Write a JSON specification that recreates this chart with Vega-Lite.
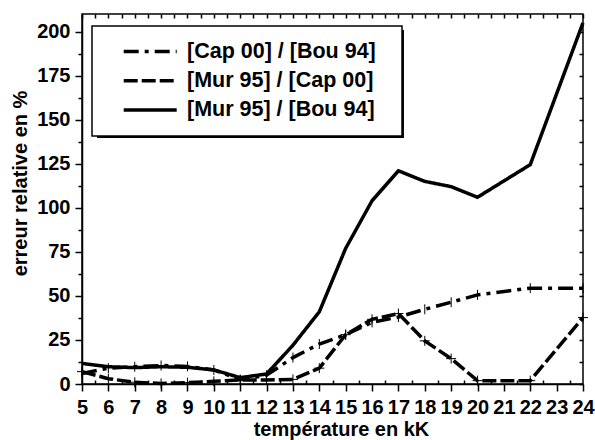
{
  "$schema": "https://vega.github.io/schema/vega-lite/v6.json",
  "width": 501,
  "height": 370,
  "autosize": {"type": "none"},
  "padding": {"left": 82, "top": 14, "right": 12, "bottom": 56},
  "background": "white",
  "config": {
    "font": "Liberation Sans",
    "view": {"stroke": "black", "strokeWidth": 1.5},
    "axis": {
      "domainColor": "black", "tickColor": "black", "labelColor": "black", "titleColor": "black",
      "labelFont": "Liberation Sans", "labelFontWeight": "bold", "labelFontSize": 20,
      "titleFont": "Liberation Sans", "titleFontWeight": "bold", "titleFontSize": 20,
      "grid": false, "tickWidth": 1.5, "domainWidth": 1.5
    },
    "legend": {"strokeWidth": 1.5}
  },
  "data": {
    "values": [
      {"s": "[Mur 95] / [Bou 94]", "x": 5, "y": 11.7},
      {"s": "[Mur 95] / [Bou 94]", "x": 6, "y": 9.8},
      {"s": "[Mur 95] / [Bou 94]", "x": 7, "y": 9.3},
      {"s": "[Mur 95] / [Bou 94]", "x": 8, "y": 9.8},
      {"s": "[Mur 95] / [Bou 94]", "x": 9, "y": 9.5},
      {"s": "[Mur 95] / [Bou 94]", "x": 10, "y": 8},
      {"s": "[Mur 95] / [Bou 94]", "x": 11, "y": 3.6},
      {"s": "[Mur 95] / [Bou 94]", "x": 12, "y": 5.7},
      {"s": "[Mur 95] / [Bou 94]", "x": 13, "y": 22},
      {"s": "[Mur 95] / [Bou 94]", "x": 14, "y": 41},
      {"s": "[Mur 95] / [Bou 94]", "x": 15, "y": 77},
      {"s": "[Mur 95] / [Bou 94]", "x": 16, "y": 104},
      {"s": "[Mur 95] / [Bou 94]", "x": 17, "y": 121},
      {"s": "[Mur 95] / [Bou 94]", "x": 18, "y": 115},
      {"s": "[Mur 95] / [Bou 94]", "x": 19, "y": 112},
      {"s": "[Mur 95] / [Bou 94]", "x": 20, "y": 106},
      {"s": "[Mur 95] / [Bou 94]", "x": 22, "y": 124.5},
      {"s": "[Mur 95] / [Bou 94]", "x": 24, "y": 205},
      {"s": "[Cap 00] / [Bou 94]", "x": 5, "y": 6},
      {"s": "[Cap 00] / [Bou 94]", "x": 6, "y": 9},
      {"s": "[Cap 00] / [Bou 94]", "x": 7, "y": 9.8},
      {"s": "[Cap 00] / [Bou 94]", "x": 8, "y": 10.5},
      {"s": "[Cap 00] / [Bou 94]", "x": 9, "y": 10},
      {"s": "[Cap 00] / [Bou 94]", "x": 10, "y": 8},
      {"s": "[Cap 00] / [Bou 94]", "x": 11, "y": 2.5},
      {"s": "[Cap 00] / [Bou 94]", "x": 12, "y": 5},
      {"s": "[Cap 00] / [Bou 94]", "x": 13, "y": 15},
      {"s": "[Cap 00] / [Bou 94]", "x": 14, "y": 22.7},
      {"s": "[Cap 00] / [Bou 94]", "x": 15, "y": 28},
      {"s": "[Cap 00] / [Bou 94]", "x": 16, "y": 35},
      {"s": "[Cap 00] / [Bou 94]", "x": 17, "y": 38},
      {"s": "[Cap 00] / [Bou 94]", "x": 18, "y": 42.4},
      {"s": "[Cap 00] / [Bou 94]", "x": 19, "y": 46.4},
      {"s": "[Cap 00] / [Bou 94]", "x": 20, "y": 50.6},
      {"s": "[Cap 00] / [Bou 94]", "x": 22, "y": 54.4},
      {"s": "[Cap 00] / [Bou 94]", "x": 24, "y": 54.4},
      {"s": "[Mur 95] / [Cap 00]", "x": 5, "y": 7},
      {"s": "[Mur 95] / [Cap 00]", "x": 6, "y": 3},
      {"s": "[Mur 95] / [Cap 00]", "x": 7, "y": 1},
      {"s": "[Mur 95] / [Cap 00]", "x": 8, "y": 0.3},
      {"s": "[Mur 95] / [Cap 00]", "x": 9, "y": 0.8},
      {"s": "[Mur 95] / [Cap 00]", "x": 10, "y": 1.5},
      {"s": "[Mur 95] / [Cap 00]", "x": 11, "y": 2.3},
      {"s": "[Mur 95] / [Cap 00]", "x": 12, "y": 2.3},
      {"s": "[Mur 95] / [Cap 00]", "x": 13, "y": 2.6},
      {"s": "[Mur 95] / [Cap 00]", "x": 14, "y": 9},
      {"s": "[Mur 95] / [Cap 00]", "x": 15, "y": 28},
      {"s": "[Mur 95] / [Cap 00]", "x": 16, "y": 36.7},
      {"s": "[Mur 95] / [Cap 00]", "x": 17, "y": 40},
      {"s": "[Mur 95] / [Cap 00]", "x": 18, "y": 24.5},
      {"s": "[Mur 95] / [Cap 00]", "x": 19, "y": 14.4},
      {"s": "[Mur 95] / [Cap 00]", "x": 20, "y": 1.9},
      {"s": "[Mur 95] / [Cap 00]", "x": 22, "y": 1.9},
      {"s": "[Mur 95] / [Cap 00]", "x": 24, "y": 37.7}
    ]
  },
  "layer": [
    {
      "data": {"values": [{}]},
      "mark": {"type": "rect", "color": "black"},
      "encoding": {
        "x": {"datum": 5.57, "type": "quantitative", "scale": {"domain": [5, 24]}, "axis": null},
        "x2": {"datum": 17.21},
        "y": {"datum": 200.9, "type": "quantitative", "scale": {"domain": [0, 210]}, "axis": null},
        "y2": {"datum": 139.6}
      }
    },
    {
      "mark": {"type": "line", "color": "black", "strokeWidth": 3.5},
      "encoding": {
        "x": {"field": "x", "type": "quantitative", "scale": {"domain": [5, 24], "nice": false, "zero": false},
          "axis": {"orient": "bottom", "values": [5,6,7,8,9,10,11,12,13,14,15,16,17,18,19,20,21,22,23,24],
            "tickSize": 7, "labelPadding": 6, "labelOverlap": false, "labelFlush": false,
            "title": "température en kK", "titleX": 259, "titleY": 51, "titleBaseline": "alphabetic", "titleAlign": "center"}},
        "y": {"field": "y", "type": "quantitative", "scale": {"domain": [0, 210], "nice": false},
          "axis": {"orient": "left", "values": [0,25,50,75,100,125,150,175,200], "tickSize": 7, "labelPadding": 5,
            "title": "erreur relative en %", "titleX": -56, "titleY": 169, "titleAngle": 270,
            "titleBaseline": "alphabetic", "titleAlign": "center"}},
        "detail": {"field": "s", "type": "nominal"},
        "strokeDash": {"field": "s", "type": "nominal",
          "scale": {"domain": ["[Cap 00] / [Bou 94]", "[Mur 95] / [Cap 00]", "[Mur 95] / [Bou 94]"],
            "range": [[15, 6, 4, 6], [14, 4], [1, 0]]},
          "legend": {"title": ".", "titleOrient": "right", "titleColor": "white", "titleFontSize": 20, "titlePadding": 5.4,
            "orient": "none", "legendX": 10, "legendY": 12,
            "symbolType": "stroke", "symbolSize": 2809, "symbolStrokeWidth": 3.5, "symbolStrokeColor": "black",
            "clipHeight": 21, "padding": 15, "rowPadding": 7.3, "symbolOffset": 14.7, "labelOffset": 8.3,
            "labelFont": "Liberation Sans", "labelFontSize": 21.5, "labelFontWeight": "bold", "labelColor": "black",
            "labelLimit": 400, "fillColor": "white", "strokeColor": "black"}}
      }
    },
    {
      "transform": [{"filter": "datum.s == '[Mur 95] / [Cap 00]'"}],
      "mark": {"type": "point", "shape": "M-1,0L1,0M0,-1L0,1", "filled": false, "stroke": "black", "strokeWidth": 1, "size": 100, "opacity": 1},
      "encoding": {
        "x": {"field": "x", "type": "quantitative",
          "axis": {"orient": "top", "values": [5,5.5,6,6.5,7,7.5,8,8.5,9,9.5,10,10.5,11,11.5,12,12.5,13,13.5,14,14.5,15,15.5,16,16.5,17,17.5,18,18.5,19,19.5,20,20.5,21,21.5,22,22.5,23,23.5,24],
            "tickSize": -4, "labels": false, "domain": false, "title": null}},
        "y": {"field": "y", "type": "quantitative",
          "axis": {"orient": "right", "values": [0,12.5,25,37.5,50,62.5,75,87.5,100,112.5,125,137.5,150,162.5,175,187.5,200],
            "tickSize": -4, "labels": false, "domain": false, "title": null}}
      }
    },
    {
      "transform": [{"filter": "datum.s == '[Cap 00] / [Bou 94]'"}],
      "mark": {"type": "point", "shape": "M0,-1L0,1", "filled": false, "stroke": "black", "strokeWidth": 1, "size": 100, "opacity": 1},
      "encoding": {
        "x": {"field": "x", "type": "quantitative",
          "axis": {"orient": "bottom", "values": [5.5,6.5,7.5,8.5,9.5,10.5,11.5,12.5,13.5,14.5,15.5,16.5,17.5,18.5,19.5,20.5,21.5,22.5,23.5],
            "tickSize": -4, "labels": false, "domain": false, "title": null}},
        "y": {"field": "y", "type": "quantitative",
          "axis": {"orient": "left", "values": [12.5,37.5,62.5,87.5,112.5,137.5,162.5,187.5],
            "tickSize": 4, "labels": false, "domain": false, "title": null}}
      }
    }
  ],
  "resolve": {"axis": {"x": "independent", "y": "independent"}}
}
